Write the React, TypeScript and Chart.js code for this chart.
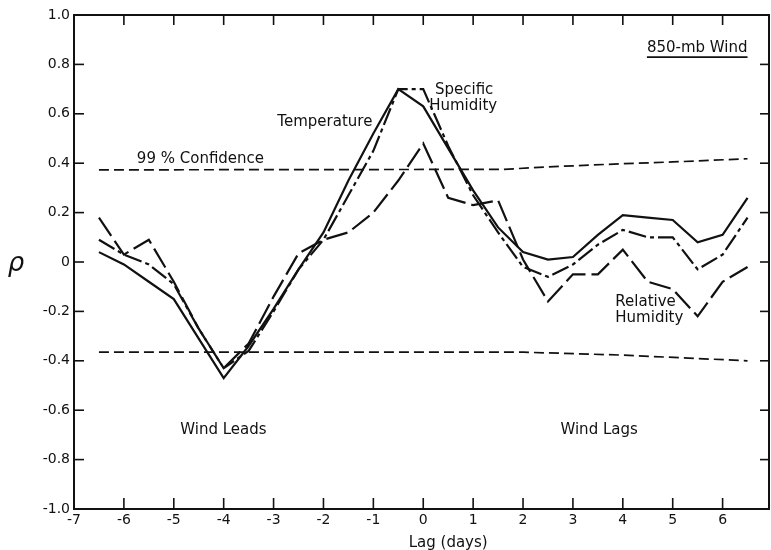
import React, { useEffect, useRef } from 'react';
import { Chart, registerables } from 'chart.js';

Chart.register(...registerables);

// ---- data ----
const lags = [-6.5, -6, -5.5, -5, -4.5, -4, -3.5, -3, -2.5, -2, -1.5, -1, -0.5, 0, 0.5, 1, 1.5, 2, 2.5, 3, 3.5, 4, 4.5, 5, 5.5, 6, 6.5];
const temperature = [0.04, -0.01, -0.08, -0.15, -0.31, -0.47, -0.34, -0.19, -0.03, 0.12, 0.33, 0.52, 0.70, 0.63, 0.46, 0.29, 0.14, 0.04, 0.01, 0.02, 0.11, 0.19, 0.18, 0.17, 0.08, 0.11, 0.26];
const specificHumidity = [0.09, 0.03, -0.01, -0.09, -0.27, -0.43, -0.36, -0.2, -0.03, 0.09, 0.27, 0.45, 0.70, 0.70, 0.47, 0.27, 0.12, -0.02, -0.06, -0.01, 0.07, 0.13, 0.10, 0.10, -0.03, 0.03, 0.18];
const relativeHumidity = [0.18, 0.03, 0.09, -0.08, -0.27, -0.43, -0.33, -0.14, 0.035, 0.09, 0.12, 0.20, 0.33, 0.48, 0.26, 0.23, 0.25, 0.01, -0.16, -0.05, -0.05, 0.05, -0.08, -0.11, -0.22, -0.08, -0.02];
const confLagsUpper = [-6.5, 1.6, 2.5, 4, 5, 6.5];
const confUpper = [0.373, 0.375, 0.385, 0.398, 0.405, 0.418];
const confLagsLower = [-6.5, 2, 4, 6.5];
const confLower = [-0.365, -0.365, -0.377, -0.40];
const xTickValues = [-7, -6, -5, -4, -3, -2, -1, 0, 1, 2, 3, 4, 5, 6];

const FONT = '"DejaVu Sans", sans-serif';
const INK = '#111';

const toPts = (xs: number[], ys: number[]) => xs.map((x, i) => ({ x, y: ys[i] }));

// text annotations (value coordinates)
const notes = [
  { text: 'Temperature', x: -1.02, y: 0.567, align: 'right' },
  { text: 'Specific', x: 0.82, y: 0.696, align: 'center' },
  { text: 'Humidity', x: 0.80, y: 0.632, align: 'center' },
  { text: '99 % Confidence', x: -5.74, y: 0.415, align: 'left' },
  { text: 'Relative', x: 3.85, y: -0.162, align: 'left' },
  { text: 'Humidity', x: 3.85, y: -0.227, align: 'left' },
  { text: 'Wind Leads', x: -4.87, y: -0.68, align: 'left' },
  { text: 'Wind Lags', x: 2.75, y: -0.68, align: 'left' },
];

const framePlugin = {
  id: 'frameAndNotes',
  afterDatasetsDraw(chart: any) {
    const { ctx, chartArea: a, scales } = chart;
    const xs = scales.x;
    const ys = scales.y;
    ctx.save();
    ctx.strokeStyle = INK;
    ctx.fillStyle = INK;
    const seg = (x1: number, y1: number, x2: number, y2: number) => {
      ctx.beginPath();
      ctx.moveTo(x1, y1);
      ctx.lineTo(x2, y2);
      ctx.stroke();
    };
    ctx.lineWidth = 2;
    ctx.setLineDash([]);
    ctx.strokeRect(a.left, a.top, a.right - a.left, a.bottom - a.top);
    ctx.lineWidth = 1.6;
    xs.ticks.forEach((t: any) => {
      const px = xs.getPixelForValue(t.value);
      if (px <= a.left + 1 || px >= a.right - 1) return;
      seg(px, a.top, px, a.top + 10);
      seg(px, a.bottom, px, a.bottom - 11);
    });
    ys.ticks.forEach((t: any) => {
      const py = ys.getPixelForValue(t.value);
      if (py <= a.top + 1 || py >= a.bottom - 1) return;
      seg(a.left, py, a.left + 10, py);
      seg(a.right, py, a.right - 9, py);
    });

    ctx.font = `500 15px ${FONT}`;
    ctx.textBaseline = 'middle';
    notes.forEach((n) => {
      ctx.textAlign = n.align;
      ctx.fillText(n.text, xs.getPixelForValue(n.x), ys.getPixelForValue(n.y));
    });

    // title with underline
    const tx = xs.getPixelForValue(6.5);
    const ty = ys.getPixelForValue(0.866);
    ctx.textAlign = 'right';
    ctx.fillText('850-mb Wind', tx, ty);
    const w = ctx.measureText('850-mb Wind').width;
    ctx.lineWidth = 1.6;
    seg(tx - w, ty + 9, tx, ty + 9);

    // axis titles
    ctx.textAlign = 'center';
    ctx.fillText('Lag (days)', xs.getPixelForValue(0.5), a.bottom + 34);
    ctx.font = `italic 26px ${FONT}`;
    ctx.fillText('ρ', a.left - 58, ys.getPixelForValue(0) + 2);
    ctx.restore();
  },
};

export default function App() {
  const ref = useRef<HTMLCanvasElement>(null);
  useEffect(() => {
    const line = (label: string, data: any[], dash: number[], width = 2.2) => ({
      label,
      data,
      borderColor: INK,
      backgroundColor: INK,
      borderWidth: width,
      borderDash: dash,
      pointRadius: 0,
      tension: 0,
      fill: false,
    });
    const chart = new Chart(ref.current as HTMLCanvasElement, {
      type: 'line',
      data: {
        datasets: [
          line('99% Confidence upper', toPts(confLagsUpper, confUpper), [10, 5], 1.7),
          line('99% Confidence lower', toPts(confLagsLower, confLower), [10, 5], 1.7),
          line('Relative Humidity', toPts(lags, relativeHumidity), [22, 6]),
          line('Specific Humidity', toPts(lags, specificHumidity), [18, 4, 4, 4]),
          line('Temperature', toPts(lags, temperature), []),
        ],
      },
      options: {
        responsive: false,
        animation: false,
        layout: { padding: { left: 0, top: 15, right: 2, bottom: 0 } },
        plugins: { legend: { display: false }, tooltip: { enabled: false } },
        scales: {
          x: {
            type: 'linear',
            min: -7,
            max: 6.93,
            grid: { display: false, drawTicks: false },
            border: { display: false },
            afterBuildTicks: (s: any) => {
              s.ticks = xTickValues.map((v) => ({ value: v }));
            },
            afterFit: (s: any) => {
              s.height = 41;
            },
            ticks: {
              padding: 3,
              color: INK,
              font: { family: FONT, size: 14, weight: '500' },
              maxRotation: 0,
              autoSkip: false,
              callback: (v: any) => String(Math.round(Number(v))),
            },
          },
          y: {
            type: 'linear',
            min: -1,
            max: 1,
            grid: { display: false, drawTicks: false },
            border: { display: false },
            afterFit: (s: any) => {
              s.width = 74;
            },
            ticks: {
              stepSize: 0.2,
              padding: 4,
              color: INK,
              font: { family: FONT, size: 14, weight: '500' },
              callback: (v: any) => {
                const n = Number(v);
                return Math.abs(n) < 1e-9 ? '0' : n.toFixed(1);
              },
            },
          },
        },
      },
      plugins: [framePlugin as any],
    });
    return () => chart.destroy();
  }, []);
  return (
    <div style={{ position: 'fixed', left: 0, top: 0, width: 771, height: 550, background: '#fff' }}>
      <canvas ref={ref} width={771} height={550} style={{ display: 'block', width: 771, height: 550 }} />
    </div>
  );
}
